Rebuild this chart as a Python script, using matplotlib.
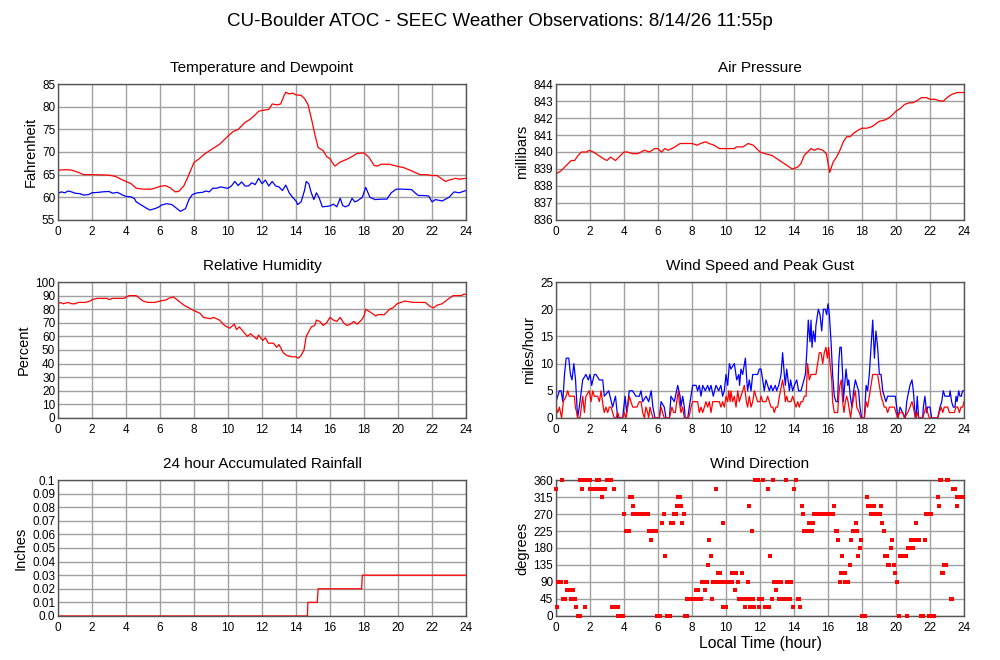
import matplotlib
matplotlib.use("Agg")
import matplotlib.pyplot as plt

plt.rcParams['font.family'] = ['Liberation Sans', 'DejaVu Sans']

# ---------------- Data ----------------
title = "CU-Boulder ATOC - SEEC Weather Observations: 8/14/26 11:55p"
hour_ticks = list(range(0, 25, 2))

temp_hours = [0, 0.5, 0.8, 1.2, 1.5, 2, 3, 3.4, 3.7, 4, 4.3, 4.6, 5, 5.5, 6, 6.3, 6.6, 6.9, 7.1, 7.4, 7.7,
              8.0, 8.3, 8.6, 9.0, 9.5, 10.0, 10.3, 10.6, 11.0, 11.3, 11.6, 11.8, 12.2, 12.4, 12.6, 12.9, 13.1,
              13.3, 13.4, 13.6, 13.8, 14.0, 14.3, 14.5, 14.7, 14.9, 15.1, 15.3, 15.6, 15.8, 16.0, 16.2, 16.3,
              16.6, 17.0, 17.3, 17.6, 18.0, 18.3, 18.6, 18.8, 19.0, 19.5, 20.0, 20.3, 20.7, 21.0, 21.3, 21.7,
              22.0, 22.3, 22.6, 22.8, 23.0, 23.4, 23.6, 24]
temp_f = [66.0, 66.1, 66.0, 65.5, 65.0, 65.0, 64.9, 64.6, 64.0, 63.5, 63.0, 62.0, 61.8, 61.8, 62.4, 62.6, 62.1,
          61.2, 61.3, 62.5, 65.0, 67.7, 68.5, 69.5, 70.5, 71.7, 73.5, 74.5, 75.0, 76.5, 77.2, 78.2, 79.0, 79.3,
          79.4, 80.6, 80.4, 80.6, 82.5, 83.2, 82.8, 83.0, 82.6, 82.5, 81.8, 80.5, 77.5, 74.0, 71.0, 70.3, 69.0,
          68.5, 67.3, 66.9, 67.8, 68.4, 69.0, 69.7, 69.8, 68.8, 67.0, 66.9, 67.3, 67.3, 66.8, 66.6, 66.0, 65.5,
          65.0, 65.0, 64.8, 64.8, 64.0, 63.5, 63.8, 64.2, 64.0, 64.2]

dew_hours = [0, 0.2, 0.4, 0.6, 0.8, 1.0, 1.3, 1.5, 1.8, 2.0, 2.4, 2.6, 3.0, 3.2, 3.5, 3.8, 4.0, 4.3, 4.5, 4.6,
             4.9, 5.2, 5.4, 5.7, 5.9, 6.1, 6.4, 6.7, 7.0, 7.2, 7.5, 7.7, 7.9, 8.2, 8.5, 8.7, 8.9, 9.1, 9.3, 9.6,
             9.8, 10.0, 10.2, 10.4, 10.6, 10.8, 11.0, 11.2, 11.4, 11.6, 11.8, 12.0, 12.2, 12.4, 12.6, 12.8, 13.0,
             13.2, 13.4, 13.6, 13.8, 14.0, 14.1, 14.3, 14.5, 14.6, 14.75, 14.9, 15.05, 15.2, 15.35, 15.55, 15.8,
             16.0, 16.2, 16.4, 16.6, 16.75, 16.9, 17.1, 17.3, 17.45, 17.6, 17.9, 18.1, 18.35, 18.65, 19.0, 19.35,
             19.6, 19.9, 20.3, 20.8, 21.0, 21.2, 21.5, 21.8, 22.0, 22.2, 22.6, 23.0, 23.3, 23.6, 24]
dew_f = [60.9, 61.2, 61.0, 61.4, 61.2, 60.9, 60.8, 60.5, 60.6, 61.0, 61.1, 61.2, 61.3, 60.9, 61.1, 60.5, 60.2,
         60.1, 59.7, 59.0, 58.3, 57.6, 57.2, 57.5, 57.8, 58.3, 58.6, 58.4, 57.5, 56.9, 57.5, 59.5, 60.6, 61.0,
         61.1, 61.4, 61.2, 62.0, 62.0, 62.3, 62.1, 62.0, 62.5, 63.5, 62.6, 63.4, 62.5, 62.5, 63.2, 62.8, 64.2,
         63.0, 63.8, 62.5, 63.5, 62.5, 62.3, 61.5, 62.7, 61.0, 60.0, 59.2, 58.4, 59.0, 61.5, 63.5, 63.0, 61.0,
         59.5, 61.0, 60.0, 57.9, 58.0, 58.1, 58.5, 57.9, 59.8, 58.2, 57.9, 58.2, 59.8, 59.0, 59.2, 60.0, 62.2,
         60.0, 59.5, 59.6, 59.6, 61.0, 61.8, 61.8, 61.7, 61.0, 60.4, 60.4, 60.3, 59.0, 59.5, 59.2, 60.0, 61.2,
         61.0, 61.5]

press_hours = [0, 0.3, 0.6, 0.9, 1.1, 1.3, 1.5, 1.8, 1.95, 2.2, 2.5, 2.8, 3.0, 3.2, 3.5, 3.7, 4.0, 4.2, 4.5,
               4.8, 5.0, 5.2, 5.5, 5.8, 6.0, 6.2, 6.4, 6.6, 6.8, 7.0, 7.3, 8.0, 8.3, 8.5, 8.8, 9.0, 9.3, 9.6,
               10.0, 10.5, 10.6, 11.0, 11.3, 11.6, 11.8, 12.0, 12.3, 12.7, 13.0, 13.3, 13.6, 13.9, 14.2, 14.4,
               14.6, 14.9, 15.0, 15.2, 15.4, 15.7, 15.9, 16.1, 16.3, 16.5, 16.7, 16.9, 17.1, 17.3, 17.5, 17.8,
               18.0, 18.3, 18.6, 19.0, 19.4, 19.7, 20.0, 20.3, 20.5, 20.8, 21.0, 21.2, 21.5, 21.8, 22.0, 22.3,
               22.6, 22.8, 23.0, 23.3, 23.6, 24]
press_mb = [838.7, 838.9, 839.2, 839.5, 839.5, 839.8, 840.0, 840.0, 840.1, 840.0, 839.8, 839.6, 839.5, 839.7,
            839.5, 839.7, 840.0, 840.0, 839.9, 839.9, 840.0, 840.1, 840.0, 840.2, 840.2, 840.0, 840.2, 840.1,
            840.2, 840.3, 840.5, 840.5, 840.4, 840.5, 840.6, 840.5, 840.4, 840.2, 840.2, 840.2, 840.3, 840.3,
            840.5, 840.4, 840.2, 840.0, 839.9, 839.8, 839.6, 839.4, 839.2, 839.0, 839.1, 839.3, 839.8, 840.1,
            840.2, 840.1, 840.2, 840.1, 839.9, 838.8, 839.4, 839.7, 840.1, 840.6, 840.9, 840.9, 841.1, 841.3,
            841.4, 841.4, 841.5, 841.8, 841.9, 842.1, 842.4, 842.6, 842.8, 842.9, 842.9, 843.0, 843.2, 843.2,
            843.1, 843.1, 843.0, 843.0, 843.2, 843.4, 843.5, 843.5]

rh_hours = [0, 0.15, 0.3, 0.6, 0.8, 1.0, 1.2, 1.6, 1.9, 2.0, 2.3, 2.9, 3.0, 3.2, 3.9, 4.0, 4.2, 4.6, 4.8, 5.0,
            5.3, 5.7, 6.0, 6.4, 6.5, 6.8, 7.1, 7.4, 7.7, 8.0, 8.35, 8.55, 8.95, 9.15, 9.5, 9.8, 10.1, 10.37,
            10.5, 10.67, 11.0, 11.14, 11.33, 11.5, 11.7, 11.8, 11.98, 12.05, 12.2, 12.37, 12.67, 12.86, 13.0,
            13.25, 13.45, 13.75, 14.0, 14.14, 14.3, 14.47, 14.6, 14.9, 15.1, 15.2, 15.4, 15.6, 15.8, 16.0, 16.2,
            16.4, 16.6, 16.8, 17.0, 17.2, 17.4, 17.6, 17.85, 18.0, 18.1, 18.35, 18.7, 18.8, 19.2, 19.5, 19.7,
            19.95, 20.4, 20.9, 21.6, 21.9, 22.1, 22.3, 22.6, 23.0, 23.25, 23.75, 23.85, 24]
rh_pct = [84, 85, 84, 85, 84, 84, 85, 85, 86, 87, 88, 88, 87, 88, 88, 89, 90, 90, 88, 86, 85, 85, 86, 87, 88,
          89, 86, 83, 81, 79, 77, 74, 73, 74, 72, 68, 66, 69, 65, 67, 62, 60, 62, 60, 58, 61, 58, 57, 59, 55,
          55, 52, 54, 48, 46, 45, 45, 44, 46, 50, 60, 67, 68, 72, 71, 68, 70, 74, 72, 71, 74, 70, 68, 69, 71,
          69, 72, 75, 80, 78, 75, 76, 76, 80, 81, 84, 86, 85, 85, 82, 81, 83, 84, 88, 90, 90, 91, 91]

gust_hours = [0, 0.1, 0.2, 0.3, 0.4, 0.5, 0.6, 0.75, 0.85, 0.94, 1.05, 1.15, 1.27, 1.37, 1.57, 1.76, 1.9, 2.0,
              2.1, 2.25, 2.35, 2.55, 2.75, 2.84, 3.1, 3.33, 3.5, 3.63, 3.92, 4.06, 4.16, 4.31, 4.5, 4.7, 4.9,
              5.0, 5.1, 5.3, 5.45, 5.6, 5.7, 5.82, 6.08, 6.18, 6.37, 6.47, 6.67, 6.76, 6.96, 7.16, 7.3, 7.35,
              7.45, 7.55, 7.6, 7.75, 7.84, 7.94, 8.04, 8.24, 8.33, 8.43, 8.53, 8.63, 8.78, 8.92, 9.02, 9.12,
              9.25, 9.41, 9.57, 9.7, 9.8, 9.9, 10.0, 10.1, 10.2, 10.29, 10.49, 10.63, 10.75, 10.8, 10.88, 10.98,
              11.14, 11.2, 11.27, 11.37, 11.47, 11.57, 11.76, 11.86, 11.96, 12.06, 12.16, 12.25, 12.35, 12.45,
              12.55, 12.65, 12.75, 12.9, 12.98, 13.1, 13.24, 13.33, 13.43, 13.49, 13.57, 13.65, 13.73, 13.8,
              13.92, 14.02, 14.16, 14.27, 14.41, 14.5, 14.67, 14.75, 14.84, 14.94, 15.0, 15.06, 15.14, 15.24,
              15.29, 15.43, 15.53, 15.63, 15.73, 15.84, 15.92, 16.0, 16.08, 16.18, 16.27, 16.37, 16.47, 16.57,
              16.63, 16.7, 16.78, 16.86, 16.9, 16.98, 17.06, 17.16, 17.22, 17.31, 17.41, 17.51, 17.61, 17.7,
              17.8, 17.88, 17.98, 18.14, 18.24, 18.33, 18.43, 18.53, 18.63, 18.73, 18.82, 18.92, 19.02, 19.12,
              19.22, 19.31, 19.41, 19.51, 19.96, 20.04, 20.12, 20.24, 20.39, 20.55, 20.63, 20.69, 20.82, 20.94,
              21.02, 21.14, 21.18, 21.25, 21.33, 21.57, 21.61, 21.7, 21.8, 21.86, 22.0, 22.1, 22.45, 22.59, 22.69,
              22.78, 22.88, 23.14, 23.18, 23.27, 23.37, 23.47, 23.53, 23.59, 23.69, 23.76, 23.84, 23.92, 24]
gust_mph = [3, 4, 5, 5, 3, 8, 11, 11, 8, 7, 10, 7, 0, 2, 7, 8, 7, 8, 6, 8, 8, 7, 7, 4, 5, 2, 4, 0, 0, 4, 1, 5,
            5, 4, 4, 5, 3, 4, 3, 5, 2, 0, 0, 3, 2, 0, 0, 4, 3, 6, 4, 2, 4, 2, 0, 0, 2, 4, 6, 6, 5, 6, 4, 6, 5,
            6, 5, 6, 4, 6, 5, 6, 4, 5, 8, 6, 10, 9, 10, 7, 8, 6, 9, 8, 11, 8, 5, 7, 5, 8, 8, 8, 9, 9, 7, 5, 7,
            6, 5, 6, 5, 6, 5, 6, 8, 12, 8, 6, 9, 7, 5, 7, 5, 6, 7, 5, 5, 6, 8, 12, 18, 14, 18, 13, 16, 14, 17,
            20, 19, 16, 20, 20, 19, 21, 19, 14, 8, 4, 3, 3, 10, 13, 13, 8, 3, 6, 9, 6, 7, 4, 2, 5, 7, 6, 5, 2,
            0, 0, 6, 5, 8, 13, 18, 11, 16, 13, 8, 8, 5, 4, 3, 4, 4, 2, 0, 2, 1, 0, 3, 4, 6, 7, 5, 0, 0, 4, 0,
            0, 2, 4, 1, 2, 2, 0, 0, 2, 3, 5, 4, 4, 5, 3, 2, 2, 4, 3, 5, 4, 4, 5, 5]

wind_hours = [0, 0.1, 0.2, 0.33, 0.43, 0.59, 0.69, 0.78, 0.98, 1.08, 1.14, 1.22, 1.27, 1.41, 1.49, 1.57, 1.67,
              1.76, 1.96, 2.06, 2.16, 2.25, 2.35, 2.45, 2.55, 2.65, 2.78, 2.84, 2.94, 3.04, 3.14, 3.24, 3.33,
              3.43, 3.53, 3.63, 3.73, 3.92, 4.02, 4.12, 4.22, 4.31, 4.41, 4.51, 4.7, 4.76, 4.9, 5.0, 5.1, 5.2,
              5.29, 5.39, 5.45, 5.53, 5.61, 5.7, 6.08, 6.18, 6.27, 6.37, 6.67, 6.82, 6.92, 7.02, 7.1, 7.2, 7.25,
              7.35, 7.45, 7.55, 7.8, 7.88, 7.94, 8.04, 8.24, 8.33, 8.43, 8.53, 8.63, 8.73, 8.82, 8.92, 9.02,
              9.12, 9.22, 9.41, 9.61, 9.7, 9.8, 9.9, 10.0, 10.1, 10.16, 10.24, 10.29, 10.39, 10.49, 10.59, 10.69,
              10.78, 10.88, 10.98, 11.08, 11.2, 11.27, 11.37, 11.47, 11.57, 11.67, 11.76, 11.86, 12.0, 12.06,
              12.16, 12.35, 12.45, 12.55, 12.65, 12.75, 12.84, 12.94, 13.04, 13.14, 13.27, 13.33, 13.43, 13.49,
              13.57, 13.65, 13.82, 13.92, 14.02, 14.12, 14.22, 14.31, 14.41, 14.51, 14.61, 14.71, 14.8, 14.9,
              15.0, 15.2, 15.29, 15.39, 15.49, 15.59, 15.69, 15.78, 15.88, 15.96, 16.04, 16.12, 16.22, 16.27,
              16.37, 16.57, 16.63, 16.7, 16.78, 16.86, 16.94, 17.02, 17.1, 17.18, 17.33, 17.41, 17.53, 17.61,
              17.69, 17.84, 17.94, 18.14, 18.24, 18.33, 18.43, 18.53, 18.63, 18.82, 18.92, 19.02, 19.12, 19.22,
              19.31, 19.41, 19.51, 19.61, 19.9, 20.0, 20.1, 20.2, 20.39, 20.49, 20.69, 20.82, 20.94, 21.02,
              21.14, 21.25, 21.33, 21.57, 21.67, 21.76, 21.86, 21.96, 22.45, 22.55, 22.65, 22.75, 22.84, 23.04,
              23.14, 23.43, 23.53, 23.63, 23.73, 23.82, 23.92, 24]
wind_mph = [2, 1, 2, 0, 3, 4, 5, 4, 4, 4, 2, 1, 0, 0, 2, 4, 1, 4, 5, 3, 5, 4, 4, 4, 3, 5, 2, 1, 2, 1, 2, 2, 1,
            0, 0, 1, 0, 0, 1, 0, 2, 4, 3, 2, 2, 2, 3, 3, 1, 0, 2, 1, 0, 2, 1, 0, 0, 2, 1, 0, 0, 2, 1, 1, 3, 5,
            3, 1, 2, 0, 0, 1, 2, 3, 3, 3, 1, 2, 1, 2, 3, 2, 3, 1, 3, 3, 3, 2, 3, 2, 4, 3, 5, 3, 5, 3, 4, 2, 5,
            3, 4, 5, 6, 3, 2, 4, 2, 3, 5, 4, 3, 3, 4, 3, 3, 4, 3, 2, 2, 1, 2, 2, 4, 6, 7, 5, 3, 4, 3, 3, 4, 3,
            2, 3, 2, 3, 3, 4, 4, 10, 7, 8, 8, 8, 10, 12, 12, 10, 12, 13, 11, 13, 10, 7, 3, 1, 1, 4, 6, 7, 3, 1,
            3, 4, 3, 0, 2, 4, 5, 2, 1, 0, 0, 3, 2, 4, 6, 8, 8, 8, 6, 4, 3, 2, 2, 1, 2, 2, 1, 0, 1, 1, 0, 1, 2,
            3, 2, 0, 1, 0, 0, 1, 2, 1, 0, 0, 1, 2, 1, 2, 2, 1, 1, 2, 2, 1, 2, 2, 3]

rain_hours = [0, 14.67, 14.7, 15.25, 15.3, 17.86, 17.9, 24]
rain_in = [0.0, 0.0, 0.01, 0.01, 0.02, 0.02, 0.03, 0.03]

dir_360_hours = [0.35, 1.41, 1.5, 1.58, 1.66, 1.75, 1.83, 1.92, 2.0, 2.43, 2.51, 2.98, 3.06, 3.15, 3.24,
                 11.7, 11.78, 11.86, 12.2, 12.78, 13.53, 14.1, 22.59, 22.67, 23.0, 23.08]
dir_337_hours = [0.0, 1.53, 2.0, 2.08, 2.16, 2.25, 2.33, 2.45, 2.55, 2.65, 2.75, 2.88, 3.43, 9.39, 12.45,
                 14.02, 23.37, 23.47]
dir_315_hours = [2.69, 4.35, 4.45, 7.2, 7.3, 18.27, 22.45, 23.57, 23.65, 23.73, 23.81, 23.9, 23.96]
dir_292_hours = [4.51, 7.1, 7.35, 11.35, 14.45, 16.37, 18.37, 18.47, 18.71, 19.12, 22.55, 23.61]
dir_270_hours = [4.0, 4.55, 4.63, 4.71, 4.8, 4.88, 4.96, 5.05, 5.13, 5.21, 5.3, 5.38, 5.43, 6.35, 6.94, 7.06,
                 7.53, 14.55, 15.2, 15.28, 15.36, 15.45, 15.53, 15.61, 15.7, 15.78, 15.86, 15.95, 16.03, 16.11,
                 16.2, 16.3, 18.53, 18.61, 18.7, 18.78, 18.86, 18.95, 19.06, 21.75, 21.83, 21.92, 22.0, 22.06]
dir_247_hours = [6.22, 6.76, 6.86, 7.43, 9.8, 14.88, 14.96, 15.05, 15.14, 17.63, 19.2, 21.2]
dir_225_hours = [4.1, 4.18, 4.27, 5.45, 5.53, 5.6, 5.7, 5.78, 5.88, 11.53, 14.61, 14.7, 14.8, 15.04, 16.45,
                 16.55, 17.45, 17.55, 17.7, 19.27]
dir_202_hours = [5.59, 9.02, 16.61, 17.35, 17.94, 19.78, 20.86, 20.94, 21.02, 21.1, 21.18, 21.27, 21.35, 21.71]
dir_180_hours = [17.88, 19.71, 20.69, 20.78, 21.02]
dir_157_hours = [6.43, 9.1, 12.61, 16.84, 17.78, 19.35, 19.45, 20.24, 20.32, 20.4, 20.48, 20.57]
dir_135_hours = [8.96, 17.29, 19.51, 19.59, 19.86, 22.84, 22.94]
dir_112_hours = [9.55, 9.65, 10.35, 10.59, 10.96, 16.76, 16.84, 16.92, 17.0, 19.94, 22.69, 22.78]
dir_90_hours = [0.14, 0.2, 0.27, 0.59, 8.57, 8.65, 8.76, 8.86, 9.25, 9.45, 9.71, 9.9, 9.98, 10.06, 10.15,
                10.25, 10.33, 10.73, 11.32, 12.84, 12.94, 13.04, 13.14, 13.24, 13.61, 13.7, 13.82, 16.71, 17.0,
                17.1, 17.2, 20.04]
dir_67_hours = [0.67, 0.75, 0.85, 0.98, 8.24, 8.33, 8.76, 10.53, 12.94]
dir_45_hours = [0.39, 0.47, 0.53, 0.86, 0.94, 1.04, 1.12, 7.72, 7.8, 7.88, 7.96, 8.04, 8.12, 8.2, 8.27, 8.47,
                8.55, 9.2, 10.78, 10.86, 10.96, 11.06, 11.2, 11.41, 11.6, 11.96, 12.04, 12.1, 12.69, 13.12,
                13.2, 13.3, 13.38, 13.47, 13.67, 13.76, 14.22, 14.3, 23.24, 23.3]
dir_22_hours = [0.08, 1.18, 1.71, 3.27, 3.37, 3.45, 3.55, 3.63, 9.84, 9.92, 10.0, 11.1, 11.43, 11.65, 11.94,
                12.29, 12.37, 12.45, 12.53, 13.96, 14.35]
dir_0_hours = [1.29, 1.35, 1.41, 3.67, 3.75, 3.83, 3.9, 3.96, 5.92, 6.0, 6.06, 6.12, 6.51, 6.6, 6.71, 7.59,
               7.66, 7.72, 17.98, 18.06, 18.12, 18.18, 20.18, 20.63, 21.45, 21.53, 21.61, 21.96, 22.04, 22.12,
               22.2, 22.25]
dir_groups = [(360, dir_360_hours), (337.5, dir_337_hours), (315, dir_315_hours), (292.5, dir_292_hours),
              (270, dir_270_hours), (247.5, dir_247_hours), (225, dir_225_hours), (202.5, dir_202_hours),
              (180, dir_180_hours), (157.5, dir_157_hours), (135, dir_135_hours), (112.5, dir_112_hours),
              (90, dir_90_hours), (67.5, dir_67_hours), (45, dir_45_hours), (22.5, dir_22_hours),
              (0, dir_0_hours)]

# ---------------- Figure ----------------
fig = plt.figure(figsize=(10, 6.6), dpi=100)
fig.text(0.5, 0.968, title, ha='center', va='center', fontsize=13.5)

LW = 0.9
GRID = '#a0a0a0'

def make_ax(rect, ttl, ylabel, ylim, yticks, yticklabels=None):
    ax = fig.add_axes(rect)
    ax.set_xlim(0, 24)
    ax.set_ylim(*ylim)
    ax.set_xticks(hour_ticks)
    ax.set_yticks(yticks)
    if yticklabels is not None:
        ax.set_yticklabels(yticklabels)
    ax.grid(True, color=GRID, linewidth=1.0)
    ax.set_axisbelow(True)
    ax.tick_params(length=0, labelsize=8.5)
    ax.tick_params(axis='x', pad=4)
    ax.tick_params(axis='y', pad=2)
    for s in ax.spines.values():
        s.set_color('#555555')
        s.set_linewidth(1.0)
    ax.set_title(ttl, fontsize=11, pad=9)
    ax.set_ylabel(ylabel, fontsize=10.5, labelpad=3)
    return ax

lx, rx, w = 0.058, 0.556, 0.408
h = 0.206
b1, b2, b3 = 0.6667, 0.3667, 0.0667

ax1 = make_ax([lx, b1, w, h], "Temperature and Dewpoint", "Fahrenheit", (55, 85), range(55, 86, 5))
ax1.plot(temp_hours, temp_f, color='red', lw=LW)
ax1.plot(dew_hours, dew_f, color='blue', lw=LW)

ax2 = make_ax([rx, b1, w, h], "Air Pressure", "millibars", (836, 844), range(836, 845))
ax2.plot(press_hours, press_mb, color='red', lw=LW)

ax3 = make_ax([lx, b2, w, h], "Relative Humidity", "Percent", (0, 100), range(0, 101, 10))
ax3.plot(rh_hours, rh_pct, color='red', lw=LW)

ax4 = make_ax([rx, b2, w, h], "Wind Speed and Peak Gust", "miles/hour", (0, 25), range(0, 26, 5))
ax4.plot(gust_hours, gust_mph, color='blue', lw=LW)
ax4.plot(wind_hours, wind_mph, color='red', lw=LW)

rain_ticks = [i / 100 for i in range(0, 11)]
rain_labels = ['0.0'] + ['%.2f' % v for v in rain_ticks[1:-1]] + ['0.1']
ax5 = make_ax([lx, b3, w, h], "24 hour Accumulated Rainfall", "Inches", (0, 0.1), rain_ticks, rain_labels)
ax5.plot(rain_hours, rain_in, color='red', lw=LW)

ax6 = make_ax([rx, b3, w, h], "Wind Direction", "degrees", (0, 360), range(0, 361, 45))
for deg, hrs in dir_groups:
    ax6.scatter(hrs, [deg] * len(hrs), s=5, marker='s', color='red', linewidths=0, zorder=3, clip_on=False)
ax6.set_xlabel("Local Time (hour)", fontsize=11.3, labelpad=2)

fig.savefig("out.png", dpi=100)
